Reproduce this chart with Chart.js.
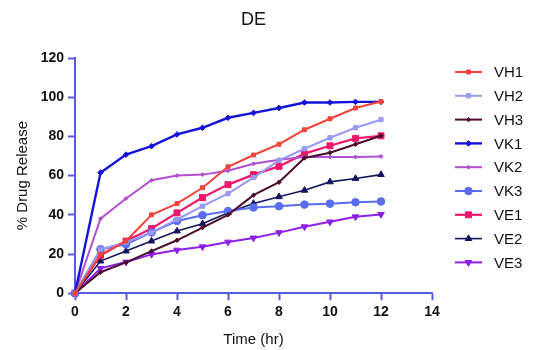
<!DOCTYPE html>
<html>
<head>
<meta charset="utf-8">
<script src="https://cdn.jsdelivr.net/npm/chart.js@4/dist/chart.umd.min.js"></script>
<style>
html,body{margin:0;padding:0;background:#fff;}
#wrap{width:536px;height:350px;position:relative;}
</style>
</head>
<body>
<div id="wrap"><canvas id="c" width="536" height="350"></canvas></div>
<script>
const timeHr = [0,1,2,3,4,5,6,7,8,9,10,11,12];
const VH1 = [0,19.8,26.6,40,45.7,53.8,64.5,70.5,76,83.4,89,94.5,97.8];
const VH2 = [0,22.4,26,31,37.6,44.4,50.8,59,67.8,73.7,79.3,84.4,88.5];
const VH3 = [0,10.7,15.7,21.5,27,33.5,40,50,56.6,69,71.7,76,80.3];
const VK1 = [0,61.5,70.7,75,81,84.4,89.5,92,94.5,97.3,97.3,97.6,97.6];
const VK2 = [0,38,48.3,57.6,60,60.5,62.5,66,68.1,69.5,69.5,69.5,69.8];
const VK3 = [0,22.4,25,31,36.8,39.8,41.9,43.7,44.4,45.2,45.7,46.4,46.8];
const VE1 = [0,19.3,26.6,33,41,48.8,55.4,60.5,64.7,71.2,75.2,79,80.3];
const VE2 = [0,16.4,21.5,26.6,31.7,35.4,41,45.8,49.2,52.5,56.8,58.5,60.5];
const VE3 = [0,12.7,15.9,19.8,22,23.7,26.1,28.2,30.9,33.9,36.4,39,40.2];
const xTicks = [0,2,4,6,8,10,12,14];
const yTicks = [0,20,40,60,80,100,120];
const chartTitle = 'DE';

const seriesNames = ['VH1','VH2','VH3','VK1','VK2','VK3','VE1','VE2','VE3'];
const seriesValues = [VH1,VH2,VH3,VK1,VK2,VK3,VE1,VE2,VE3];
const styles = {
  VH1:{color:'#f0443c', shape:'rect', r:2.8, w:2, rot:0},
  VH2:{color:'#9a9af5', shape:'rect', r:3, w:2, rot:0},
  VH3:{color:'#4a0b2c', shape:'rectRot', r:2.2, w:2, rot:0},
  VK1:{color:'#1414d8', shape:'rectRot', r:2.8, w:2.4, rot:0},
  VK2:{color:'#b150d0', shape:'rectRot', r:2, w:2, rot:0},
  VK3:{color:'#5a6cf0', shape:'circle', r:3.8, w:2, rot:0},
  VE1:{color:'#f0176c', shape:'rect', r:4.2, w:2.2, rot:0},
  VE2:{color:'#15155e', shape:'triangle', r:3.8, w:1.6, rot:0},
  VE3:{color:'#8c1ee8', shape:'triangle', r:3.8, w:2, rot:180}
};
const axisColor = '#5a5ae0';
const FONT = "'Liberation Sans', Arial, sans-serif";

const datasets = seriesNames.map((n,i)=>({
  label:n,
  data: timeHr.map((t,k)=>({x:t,y:seriesValues[i][k]})),
  borderColor: styles[n].color,
  backgroundColor: styles[n].color,
  borderWidth: styles[n].w,
  pointStyle: styles[n].shape,
  pointRadius: styles[n].r,
  pointRotation: styles[n].rot,
  pointBorderWidth: 1,
  pointHoverRadius: styles[n].r,
  tension: 0,
  clip: false
}));

const legendPlugin = {
  id:'customLegend',
  afterDraw(chart){
    const ctx = chart.ctx;
    const ca = chart.chartArea;
    ctx.save();
    ctx.fillStyle = '#111';
    ctx.font = "18px " + FONT;
    ctx.textAlign = 'center';
    ctx.textBaseline = 'middle';
    ctx.fillText(chartTitle, (ca.left + ca.right)/2, 20);
    ctx.restore();
    const x0 = 455, x1 = 482, tx = 494, y0 = 72, dy = 23.8;
    chart.data.datasets.forEach((ds,i)=>{
      const y = y0 + i*dy;
      ctx.save();
      ctx.strokeStyle = ds.borderColor;
      ctx.lineWidth = ds.borderWidth;
      ctx.beginPath(); ctx.moveTo(x0,y); ctx.lineTo(x1,y); ctx.stroke();
      ctx.fillStyle = ds.borderColor;
      ctx.strokeStyle = ds.borderColor;
      ctx.lineWidth = 1;
      Chart.helpers.drawPoint(ctx, {pointStyle: ds.pointStyle, radius: ds.pointRadius, rotation: ds.pointRotation, borderWidth:1}, (x0+x1)/2, y);
      ctx.fillStyle = '#111';
      ctx.font = "15px " + FONT;
      ctx.textBaseline = 'middle';
      ctx.textAlign = 'left';
      ctx.fillText(ds.label, tx, y+1);
      ctx.restore();
    });
  }
};

new Chart(document.getElementById('c'), {
  type:'line',
  data:{datasets},
  plugins:[legendPlugin],
  options:{
    responsive:false,
    animation:false,
    devicePixelRatio:1,
    layout:{padding:{left:14, right:104, top:58, bottom:1}},
    plugins:{
      legend:{display:false},
      tooltip:{enabled:false},
      title:{display:false}
    },
    scales:{
      x:{
        type:'linear', min:0, max:14,
        afterBuildTicks(s){ s.ticks = xTicks.map(v=>({value:v})); },
        grid:{drawOnChartArea:false, color:axisColor, tickLength:7, tickWidth:2},
        border:{color:axisColor, width:2},
        ticks:{color:'#111', font:{family:FONT, size:14, weight:'bold'}, padding:4},
        title:{display:true, text:'Time (hr)', color:'#111', font:{family:FONT, size:15}, padding:{top:6,bottom:0}}
      },
      y:{
        min:0, max:120,
        afterBuildTicks(s){ s.ticks = yTicks.map(v=>({value:v})); },
        afterFit(s){ s.width = 61; },
        grid:{drawOnChartArea:false, color:axisColor, tickLength:7, tickWidth:2},
        border:{color:axisColor, width:2},
        ticks:{color:'#111', font:{family:FONT, size:14, weight:'bold'}, padding:4},
        title:{display:true, text:'% Drug Release', color:'#111', font:{family:FONT, size:15}, padding:{top:0,bottom:2}}
      }
    }
  }
});
</script>
</body>
</html>
